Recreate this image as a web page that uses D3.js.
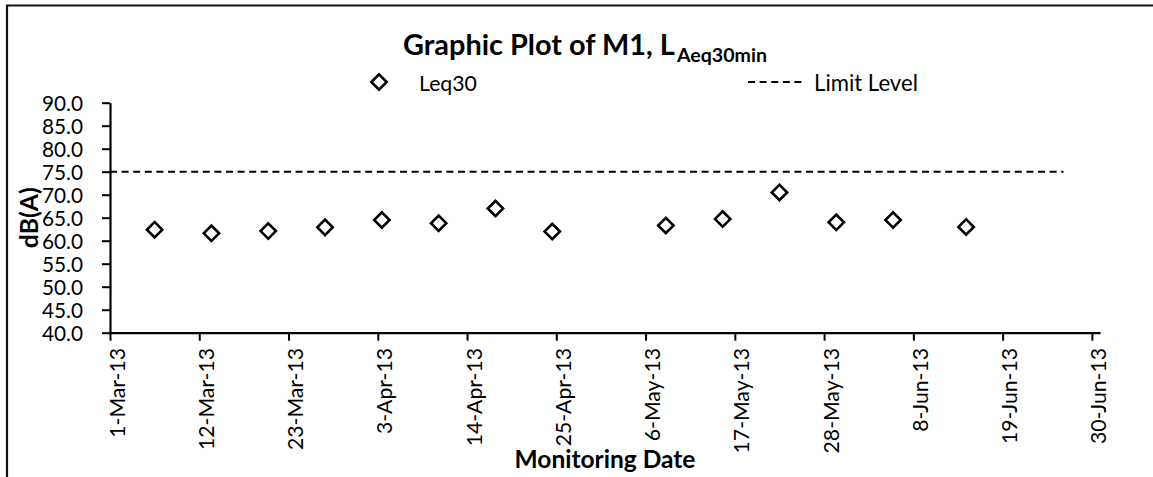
<!DOCTYPE html>
<html><head><meta charset="utf-8">
<script src="https://cdn.jsdelivr.net/npm/d3@7"></script>
<style>
body{margin:0;background:#fff;}
svg{display:block;}
text{font-family:Lato,"Open Sans",sans-serif;fill:#000;}
</style>
</head><body>
<svg id="chart" width="1153" height="477"></svg>
<script>
// ---- data ----
const measureDates = ["2013-03-06T12:00","2013-03-13T12:00","2013-03-20T12:00","2013-03-27T12:00",
  "2013-04-03T12:00","2013-04-10T12:00","2013-04-17T12:00","2013-04-24T12:00",
  "2013-05-08T12:00","2013-05-15T12:00","2013-05-22T12:00","2013-05-29T12:00",
  "2013-06-05T12:00","2013-06-14T12:00"];
const leq30Values = [62.4,61.6,62.1,62.9,64.5,63.8,67.0,62.0,63.3,64.7,70.5,64.0,64.5,63.0];
const limitDates = ["2013-03-01T00:00","2013-06-26T12:00"];
const limitValues = [75,75];
const yTickValues = [40,45,50,55,60,65,70,75,80,85,90];
const xTickLabels = ["1-Mar-13","12-Mar-13","23-Mar-13","3-Apr-13","14-Apr-13","25-Apr-13",
  "6-May-13","17-May-13","28-May-13","8-Jun-13","19-Jun-13","30-Jun-13"];
const xDomainDates = ["2013-03-01","2013-07-01"];
const yDomain = [40,90];
const titleMain = "Graphic Plot of M1, L";
const titleSub = "Aeq30min";
const seriesNames = ["Leq30","Limit Level"];
const xAxisTitle = "Monitoring Date";
const yAxisTitle = "dB(A)";

// ---- setup ----
const svg = d3.select("#chart");
const pDT = d3.timeParse("%Y-%m-%dT%H:%M");
const pD = d3.timeParse("%Y-%m-%d");
const pLab = d3.timeParse("%d-%b-%y");

const mLeft = 110, mRight = 1100, mTop = 102.7, mBottom = 332.7;
const x = d3.scaleTime().domain(xDomainDates.map(pD)).range([mLeft, mRight]);
const y = d3.scaleLinear().domain(yDomain).range([mBottom, mTop]);

function fitWidth(sel, w){
  const L = sel.node().getComputedTextLength();
  const cur = parseFloat(sel.style("font-size"));
  if (L > 0) sel.style("font-size", (cur * w / L) + "px");
}

// border
svg.append("path").attr("d","M7,477V5.5H1153").attr("fill","none")
  .attr("stroke","#111").attr("stroke-width",2.2);

// title
const tMain = svg.append("text").attr("x",403).attr("y",55)
  .style("font-weight","bold").style("font-size","30px").text(titleMain);
fitWidth(tMain, 272);
const tSub = svg.append("text").attr("x",677).attr("y",62)
  .style("font-weight","bold").style("font-size","20px").text(titleSub);
fitWidth(tSub, 90);

// legend
const sym = d3.symbol().type(d3.symbolSquare).size(118);
svg.append("path").attr("d", sym()).attr("transform","translate(379,82) rotate(45)")
  .attr("fill","#fff").attr("stroke","#000").attr("stroke-width",2.6);
const lg1 = svg.append("text").attr("x",419).attr("y",91).style("font-size","23px").text(seriesNames[0]);
fitWidth(lg1, 58);
svg.append("line").attr("x1",748).attr("x2",804).attr("y1",82).attr("y2",82)
  .attr("stroke","#000").attr("stroke-width",2).attr("stroke-dasharray","7,4.6");
const lg2 = svg.append("text").attr("x",814).attr("y",91).style("font-size","23px").text(seriesNames[1]);
fitWidth(lg2, 104);

// axes
const yAxis = d3.axisLeft(y).tickValues(yTickValues).tickFormat(d3.format(".1f"))
  .tickSize(8).tickSizeOuter(0).tickPadding(19);
const gy = svg.append("g").attr("transform",`translate(${mLeft},0)`).call(yAxis);
gy.attr("font-family",null).attr("font-size",null);
gy.selectAll("text").style("font-size","20.8px").attr("dy","0.36em");

const xAxis = d3.axisBottom(x).tickValues(xTickLabels.map(pLab))
  .tickFormat((d,i)=>xTickLabels[i]).tickSize(8).tickSizeOuter(0);
const gx = svg.append("g").attr("transform",`translate(0,${mBottom})`).call(xAxis);
gx.attr("font-family",null).attr("font-size",null);
gx.selectAll("text").style("font-size","21.2px")
  .attr("transform","rotate(-90)").attr("text-anchor","end")
  .attr("x",-15.3).attr("y",14).attr("dy",0);

[gx, gy].forEach(g=>{
  g.selectAll("path.domain").attr("stroke","#000").attr("stroke-width",2.2);
  g.selectAll(".tick line").attr("stroke","#000").attr("stroke-width",2);
});

// axis titles
const xt = svg.append("text").attr("x",(mLeft+mRight)/2).attr("y",468).attr("text-anchor","middle")
  .style("font-weight","bold").style("font-size","24px").text(xAxisTitle);
fitWidth(xt, 181);
const yt = svg.append("text").attr("transform",`translate(38,${(mTop+mBottom)/2}) rotate(-90)`)
  .attr("text-anchor","middle").style("font-weight","bold").style("font-size","24px").text(yAxisTitle);
fitWidth(yt, 61);

// limit line
const limitData = limitDates.map((d,i)=>({date:pDT(d), v:limitValues[i]}));
svg.append("path").datum(limitData)
  .attr("d", d3.line().x(d=>x(d.date)).y(d=>y(d.v)))
  .attr("fill","none").attr("stroke","#000").attr("stroke-width",2).attr("stroke-dasharray","7,4.6");

// points
const pts = measureDates.map((d,i)=>({date:pDT(d), v:leq30Values[i]}));
svg.append("g").selectAll("path").data(pts).join("path")
  .attr("d", sym())
  .attr("transform", d=>`translate(${x(d.date)},${y(d.v)}) rotate(45)`)
  .attr("fill","#fff").attr("stroke","#000").attr("stroke-width",2.6);
</script>
</body></html>
